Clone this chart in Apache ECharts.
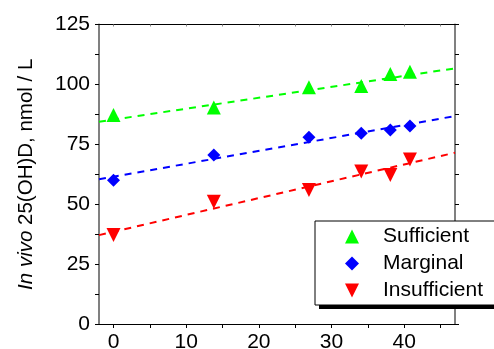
<!DOCTYPE html>
<html>
<head>
<meta charset="utf-8">
<script src="https://cdn.jsdelivr.net/npm/echarts@6/dist/echarts.min.js"></script>
<style>
  html, body { margin: 0; padding: 0; background: #fff; }
  #chart { width: 494px; height: 349px; }
</style>
</head>
<body>
<div id="chart"></div>
<script>
// days and measured values per group
var days = [0, 13.8, 26.9, 34.1, 38.1, 40.8];
var sufficient = [87.2, 90.4, 98.8, 99.3, 104.3, 105.3];
var marginal = [60.0, 70.5, 77.9, 79.6, 81.0, 82.6];
var insufficient = [37.1, 51.0, 55.9, 63.6, 62.2, 68.7];

var fitX = [-2, 47];
var fitSufficient = [84.4, 106.7];
var fitMarginal = [60.4, 86.8];
var fitInsufficient = [37.1, 71.5];

var xLabels = [0, 10, 20, 30, 40];
var xTicks = [0, 5, 10, 15, 20, 25, 30, 35, 40, 45];

function pairs(xs, ys) {
  return xs.map(function (x, i) { return [x, ys[i]]; });
}

var font = "'Liberation Sans', Arial, sans-serif";
var downTri = 'path://M0,0L10,0L5,10Z';

var chart = echarts.init(document.getElementById('chart'));

function fitLine(data, color) {
  return {
    type: 'line',
    data: pairs(fitX, data),
    showSymbol: false,
    silent: true,
    z: 1,
    lineStyle: { color: color, width: 2, type: [7, 6] }
  };
}

var option = {
  animation: false,
  grid: { left: 99, right: 39, top: 24.5, bottom: 25, outerBoundsMode: 'none', containLabel: false },
  xAxis: [
    {
      type: 'value', position: 'bottom', min: -2, max: 47,
      axisLine: { onZero: false, lineStyle: { color: '#000', width: 1 } },
      axisTick: { inside: false, length: 4, customValues: xTicks, lineStyle: { color: '#000' } },
      axisLabel: { customValues: xLabels, fontSize: 21, color: '#000', fontFamily: font, margin: 8 },
      splitLine: { show: false }
    },
    {
      type: 'value', position: 'top', min: -2, max: 47,
      axisLine: { onZero: false, lineStyle: { color: '#000', width: 1 } },
      axisTick: { inside: true, length: 2, customValues: xTicks, lineStyle: { color: '#888' } },
      axisLabel: { show: false },
      splitLine: { show: false }
    }
  ],
  yAxis: [
    {
      type: 'value', position: 'left', min: 0, max: 125, interval: 25,
      name: '{i|In vivo} 25(OH)D, nmol / L',
      nameLocation: 'middle', nameGap: 62,
      nameTextStyle: {
        fontSize: 20.5, color: '#000', fontFamily: font,
        rich: { i: { fontStyle: 'italic', fontSize: 20.5, color: '#000', fontFamily: font } }
      },
      axisLine: { onZero: false, lineStyle: { color: '#808080', width: 2 } },
      axisTick: { inside: false, length: 4, lineStyle: { color: '#000' } },
      minorTick: { show: true, splitNumber: 2, length: 4, lineStyle: { color: '#000' } },
      axisLabel: { fontSize: 21, color: '#000', fontFamily: font, margin: 9 },
      splitLine: { show: false }
    },
    {
      type: 'value', position: 'right', min: 0, max: 125, interval: 25,
      axisLine: { onZero: false, lineStyle: { color: '#808080', width: 2 } },
      axisTick: { inside: false, length: 4, lineStyle: { color: '#000' } },
      minorTick: { show: true, splitNumber: 2, length: 4, lineStyle: { color: '#000' } },
      axisLabel: { show: false },
      splitLine: { show: false }
    }
  ],
  graphic: [
    { type: 'rect', z: 10, shape: { x: 319, y: 225, width: 200, height: 84 }, style: { fill: '#000' } },
    { type: 'rect', z: 11, shape: { x: 315, y: 221, width: 200, height: 84 }, style: { fill: '#fff', stroke: '#000', lineWidth: 1 } }
  ],
  legend: {
    data: ['Sufficient', 'Marginal', 'Insufficient'],
    orient: 'vertical',
    left: 345, top: 226,
    padding: 0,
    itemWidth: 14, itemHeight: 14, itemGap: 6,
    z: 20,
    textStyle: { fontSize: 21, color: '#000', fontFamily: font, padding: [0, 0, 0, 19] }
  },
  series: [
    fitLine(fitSufficient, '#00ff00'),
    fitLine(fitMarginal, '#0000ff'),
    fitLine(fitInsufficient, '#ff0000'),
    {
      name: 'Sufficient', type: 'scatter', symbol: 'triangle', symbolSize: 14, z: 3,
      itemStyle: { color: '#00ff00', opacity: 1 },
      data: pairs(days, sufficient)
    },
    {
      name: 'Marginal', type: 'scatter', symbol: 'diamond', symbolSize: 13, z: 3,
      itemStyle: { color: '#0000ff', opacity: 1 },
      data: pairs(days, marginal)
    },
    {
      name: 'Insufficient', type: 'scatter', symbol: downTri, symbolSize: 14, z: 3,
      itemStyle: { color: '#ff0000', opacity: 1 },
      data: pairs(days, insufficient)
    }
  ]
};

chart.setOption(option);
</script>
</body>
</html>
